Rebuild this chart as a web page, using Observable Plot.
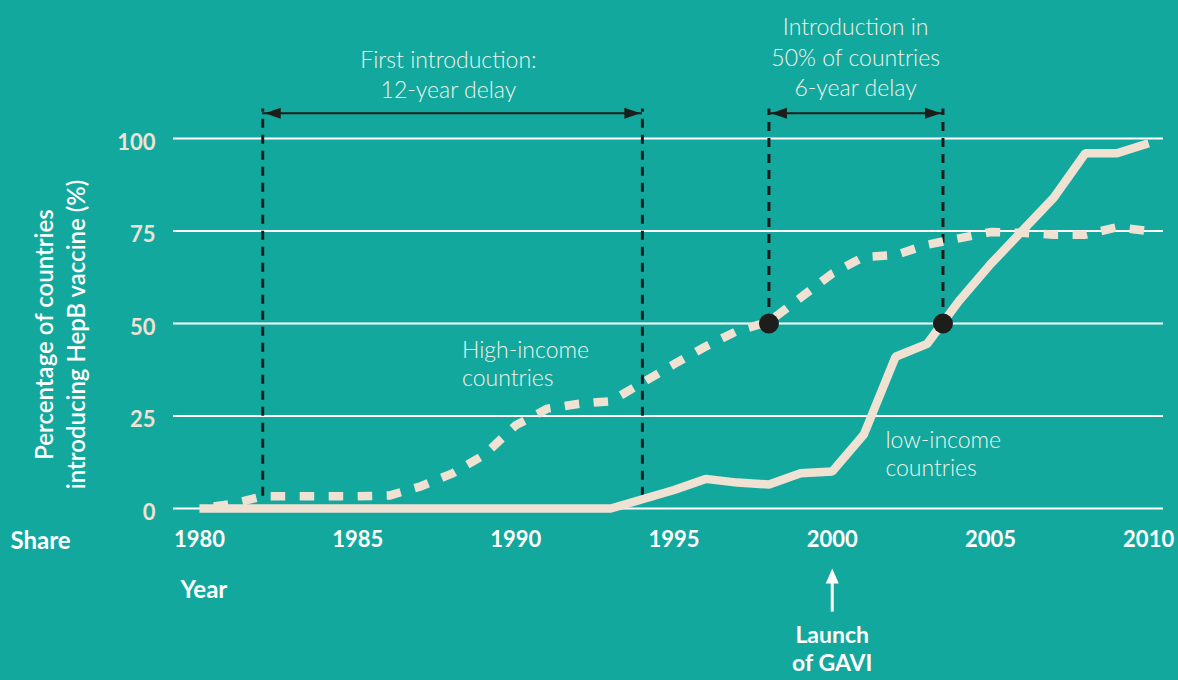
<!DOCTYPE html>
<html><head><meta charset="utf-8">
<script src="https://cdn.jsdelivr.net/npm/d3@7"></script>
<script src="https://cdn.jsdelivr.net/npm/@observablehq/plot@0.6"></script>
<style>
html,body{margin:0;padding:0;background:#13a89e;}
#chart{width:1178px;height:680px;overflow:hidden;}
#chart svg{display:block;}
</style></head><body><div id="chart"></div>
<script>
// ---- data ----
const years = d3.range(1980, 2011);
const lowIncome  = [0,0,0,0,0,0,0,0,0,0,0,0,0,0,2.5,5,8,7,6.5,9.5,10,20,41,44.5,56,66,75,84,96,96,98.7];
const highIncome = [0,1.2,3.3,3.3,3.3,3.3,3.5,6,9.5,14.5,22.5,27,28.3,29,34,39,43.8,48,50.5,57,63.5,68,68.5,71.3,73,74.7,74.5,74,74,76,75];
const yTicks = [0, 25, 50, 75, 100];
const xTicks = [1980, 1985, 1990, 1995, 2000, 2005, 2010];
const guides = [
  {year: 1982, bottom: 3.3},
  {year: 1994, bottom: 3.3},
  {year: 1998, bottom: 50},
  {year: 2003.5, bottom: 50}
];
const spans = [{from: 1982, to: 1994}, {from: 1998, to: 2003.5}];
const milestones = [{year: 1998, share: 50}, {year: 2003.5, share: 50}];
const gavi = [{year: 2000}];

const rows = years.map((y, i) => ({year: y, low: lowIncome[i], high: highIncome[i]}));

// ---- styles ----
const bg = "#13a89e", cream = "#efe2d3", ink = "#1d1d1b", txt = "#f1f3ea";
const guideTop = 108, arrowY = 106.8;
const head = {draw(ctx) { ctx.moveTo(0, 0); ctx.lineTo(-16, -5.5); ctx.lineTo(-16, 5.5); ctx.closePath(); }};
const headW = {draw(ctx) { ctx.moveTo(0, 0); ctx.lineTo(-15, -6.5); ctx.lineTo(-15, 6.5); ctx.closePath(); }};

const chart = Plot.plot({
  width: 1178, height: 680,
  marginLeft: 173, marginRight: 15, marginTop: 138, marginBottom: 172,
  style: {background: bg, fontFamily: "Lato, sans-serif", overflow: "visible"},
  x: {domain: [1979.18, 2010.47]},
  y: {domain: [0, 100]},
  marks: [
    Plot.gridY(yTicks, {stroke: "#ffffff", strokeOpacity: 1, strokeWidth: 2}),
    Plot.axisY(yTicks, {tickSize: 0, tickPadding: 18, fontSize: 22, fontWeight: 700, fill: cream, dy: 4, label: null}),
    Plot.axisX(xTicks, {tickSize: 0, tickPadding: 23, fontSize: 22, fontWeight: 700, fill: "#ffffff", label: null, tickFormat: d => String(d)}),
    // guides
    Plot.ruleX(guides, {x: "year", y1: "bottom", y2: () => guideTop, stroke: ink, strokeWidth: 3, strokeDasharray: "9,7"}),
    // data lines
    Plot.line(rows, {x: "year", y: "high", stroke: cream, strokeWidth: 8.5, strokeDasharray: "14.5,14.5", strokeDashoffset: 14.5, strokeLinecap: "butt", strokeLinejoin: "round"}),
    Plot.line(rows, {x: "year", y: "low", stroke: cream, strokeWidth: 8.5, strokeLinecap: "butt", strokeLinejoin: "miter"}),
    Plot.dot(milestones, {x: "year", y: "share", r: 10, fill: ink, stroke: null}),
    // delay arrows
    Plot.ruleY(spans, {x1: "from", x2: "to", y: () => arrowY, stroke: ink, strokeWidth: 2}),
    Plot.dot(spans, {x: "to", y: () => arrowY, symbol: head, fill: ink, stroke: null, r: 5, dx: -2}),
    Plot.dot(spans, {x: "from", y: () => arrowY, symbol: head, fill: ink, stroke: null, r: 5, rotate: 180, dx: 2}),
    // GAVI arrow
    Plot.ruleX(gavi, {x: "year", y1: -28, y2: -18, stroke: "#ffffff", strokeWidth: 3}),
    Plot.dot(gavi, {x: "year", y: -16.2, symbol: headW, fill: "#ffffff", stroke: null, r: 5, rotate: -90}),
    Plot.text(gavi, {x: "year", y: -37.6, text: () => "Launch\nof GAVI", fill: "#ffffff", fontSize: 23, fontWeight: 700, lineHeight: 1.22}),
    // annotations
    Plot.text(["First introduction:\n12-year delay"], {x: 1987.87, y: 117.6, text: d => d, fill: txt, fontSize: 23, fontWeight: 300, lineHeight: 1.3}),
    Plot.text(["Introduction in\n50% of countries\n6-year delay"], {x: 2000.74, y: 122.3, text: d => d, fill: txt, fontSize: 23, fontWeight: 300, lineHeight: 1.33}),
    Plot.text(["High-income\ncountries"], {x: 1988.3, y: 39.4, text: d => d, textAnchor: "start", fill: txt, fontSize: 23, fontWeight: 300, lineHeight: 1.22}),
    Plot.text(["low-income\ncountries"], {x: 2001.68, y: 14.9, text: d => d, textAnchor: "start", fill: txt, fontSize: 23, fontWeight: 300, lineHeight: 1.22}),
    // axis titles
    Plot.text(["Share"], {frameAnchor: "bottom-left", dx: -163, dy: 40, text: d => d, textAnchor: "start", fill: "#ffffff", fontSize: 24, fontWeight: 700}),
    Plot.text(["Year"], {frameAnchor: "bottom-left", dx: 7, dy: 89, text: d => d, textAnchor: "start", fill: "#ffffff", fontSize: 24, fontWeight: 700}),
    Plot.text(["Percentage of countries\nintroducing HepB vaccine (%)"], {frameAnchor: "left", textAnchor: "middle", lineAnchor: "middle", dx: -115, dy: 11, rotate: -90, text: d => d, fill: "#ffffff", fontSize: 24, fontWeight: 600, lineHeight: 1.33})
  ]
});
document.getElementById("chart").appendChild(chart);
</script>
</body></html>
